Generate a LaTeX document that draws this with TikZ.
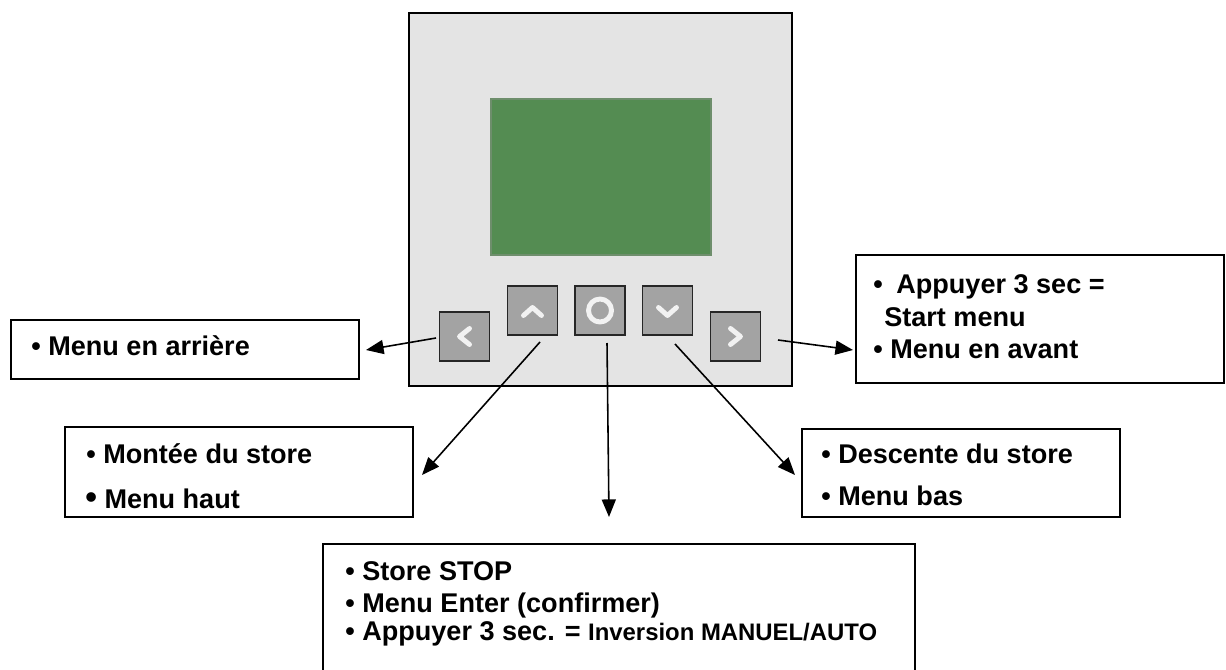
\documentclass[tikz,border=0pt]{standalone}
\usepackage{fontspec}
\setmainfont{Liberation Sans}
\usetikzlibrary{arrows.meta}
\definecolor{panelgray}{HTML}{E4E4E4}
\definecolor{keygray}{HTML}{A3A3A3}
\definecolor{lcdgreen}{HTML}{548C52}
\definecolor{lcdedge}{HTML}{6E8E6C}
\definecolor{glyphwhite}{HTML}{F2F2F2}
\begin{document}
\begin{tikzpicture}[x=0.02cm,y=-0.02cm,
  key/.style={draw=black!85,line width=1.1pt,fill=keygray,minimum width=1cm,minimum height=0.98cm,inner sep=0pt},
  glyph/.style={draw=glyphwhite,line width=2.8pt,line cap=round,line join=round},
  infobox/.style={draw,line width=0.9pt},
  txt/.style={anchor=base west,inner sep=0pt,font=\fontsize{15.4}{18}\selectfont\bfseries},
  arr/.style={line width=0.9pt,-{Triangle[length=10pt,width=8pt]}}]
\useasboundingbox (0,0) rectangle (1226,669);
%\draw[step=50,gray,very thin] (0,0) grid (1226,669); %background grid
% housing and display
\draw[fill=panelgray,line width=1.2pt] (409,13) rectangle (792,386);
\draw[fill=lcdgreen,draw=lcdedge,line width=0.6pt] (491,99) rectangle (711,255);
% keys
\node[key] (kBack) at (464.5,336.5) {};
\node[key] (kUp) at (532.5,310.5) {};
\node[key] (kOk) at (600,310.5) {};
\node[key] (kDown) at (667.5,310.5) {};
\node[key] (kFwd) at (735.5,336.5) {};
\draw[glyph,shift={(kBack.center)}] (5,-8) -- (-5,0) -- (5,8);
\draw[glyph,shift={(kUp.center)}] (-9,5) -- (0,-3) -- (9,5);
\draw[glyph] (kOk.center) circle (0.23cm);
\draw[glyph,shift={(kDown.center)}] (-9,-3) -- (0,5) -- (9,-3);
\draw[glyph,shift={(kFwd.center)}] (-5,-8) -- (5,0) -- (-5,8);
% text boxes
\draw[infobox] (11,320) rectangle (359,379);
\draw[infobox] (856,255) rectangle (1224,383);
\draw[infobox] (65,427) rectangle (413,517);
\draw[infobox] (802,429) rectangle (1120,517);
\draw[infobox] (323,544) rectangle (915,675);
\node[txt] (tBack) at (31,355) {• Menu en arrière};
\node[txt] (tPress) at (873,293) {•\hspace{0.5em}Appuyer 3 sec =};
\node[txt] (tStart) at (884,326) {Start menu};
\node[txt] (tFwd) at (873,358) {• Menu en avant};
\node[txt] (tUp) at (86,463) {• Montée du store};
\node[txt] (tHigh) at (85,508) {{\fontsize{19}{19}\selectfont•} Menu haut};
\node[txt] (tDown) at (821,463) {• Descente du store};
\node[txt] (tLow) at (821,505) {• Menu bas};
\node[txt] (tStop) at (345,580) {• Store STOP};
\node[txt] (tEnter) at (345,612) {• Menu Enter (confirmer)};
\node[txt] (tSwap) at (345,640) {• Appuyer 3 sec. = {\fontsize{13.6}{16}\selectfont Inversion MANUEL/AUTO}};
% arrows
\coordinate (sBack) at (436,338); \coordinate (eBack) at (366,350);
\coordinate (sUp) at (540,342);   \coordinate (eUp) at (422,475);
\coordinate (sOk) at (607,343);   \coordinate (eOk) at (609,517);
\coordinate (sDown) at (675,344); \coordinate (eDown) at (795,475);
\coordinate (sFwd) at (778,340);  \coordinate (eFwd) at (853,350);
\draw[arr] (sBack) -- (eBack);
\draw[arr] (sUp) -- (eUp);
\draw[arr] (sOk) -- (eOk);
\draw[arr] (sDown) -- (eDown);
\draw[arr] (sFwd) -- (eFwd);
\end{tikzpicture}
\end{document}
